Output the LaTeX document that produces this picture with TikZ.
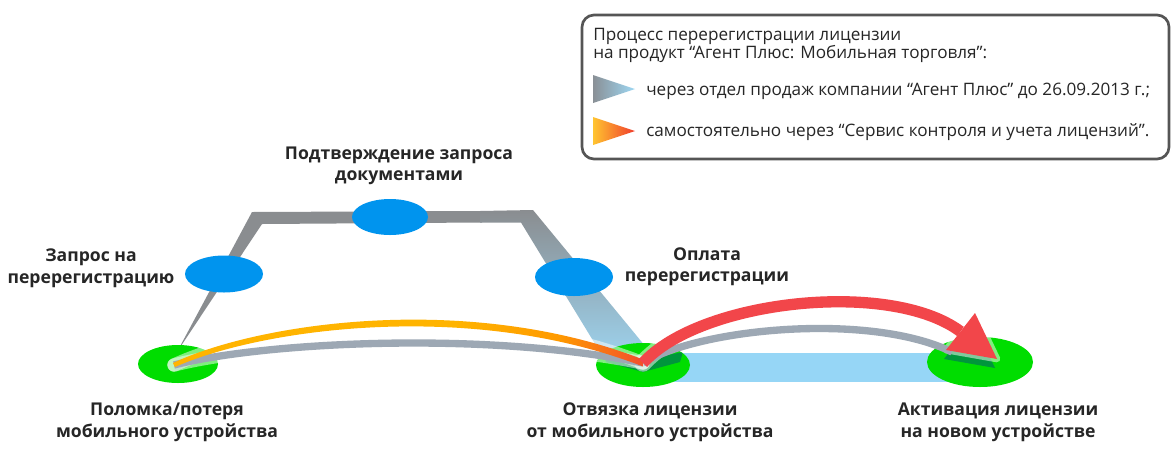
\documentclass[tikz,border=0pt]{standalone}
\usepackage{fontspec}
\setmainfont{Open Sans}
\usetikzlibrary{shapes.geometric}
\definecolor{grn}{HTML}{00DD00}
\definecolor{dgrn}{HTML}{00963C}
\definecolor{blu}{HTML}{0094EE}
\definecolor{lblu}{HTML}{96D6F6}
\definecolor{gryb}{HTML}{8A8D90}
\definecolor{lbluB}{HTML}{9CD0EA}
\definecolor{gryc}{HTML}{9DA8B4}
\definecolor{redc}{HTML}{F2464A}
\definecolor{orgA}{HTML}{FFB400}
\definecolor{orgM}{HTML}{FF9A00}
\definecolor{orgB}{HTML}{F2502C}
\definecolor{txt}{HTML}{262626}
\definecolor{frame}{HTML}{555555}
\definecolor{lgA}{HTML}{8A9096}
\definecolor{lgB}{HTML}{9ED8F4}
\definecolor{loA}{HTML}{FFC430}
\definecolor{loB}{HTML}{F03C2C}
\pgfdeclarehorizontalshading{orgshade}{100bp}{color(0bp)=(orgA); color(25bp)=(orgA); color(55bp)=(orgA); color(66bp)=(orgM); color(75bp)=(orgB); color(100bp)=(orgB)}
\begin{document}
\begin{tikzpicture}[x=0.75pt,y=-0.75pt,
  lbl/.style={font=\bfseries\fontsize{13.2}{15.9}\selectfont, text=txt, align=center, inner sep=0, anchor=base},
  leg/.style={font=\fontsize{12.85}{14}\selectfont, text=txt, inner sep=0, anchor=base west},
  gnode/.style={ellipse, fill=grn, inner sep=0, draw=none},
  bnode/.style={ellipse, fill=blu, inner sep=0, draw=none},
  glow/.style={white, opacity=0.5, line cap=round},
  graycurve/.style={gryc, line width=5.5pt},
  redcurve/.style={redc, line width=8.5pt}]
\useasboundingbox (0,0) rectangle (1176,461);
\fill[white] (0,0) rectangle (1176,461);

% ---- legend ----
\draw[frame, line width=2pt, rounded corners=9pt] (582,15) rectangle (1169,159);
\node[leg] (t1) at (593,40) {Процесс перерегистрации лицензии};
\node[leg] (t2) at (593,58.5) {на продукт “Агент Плюс: Мобильная торговля”:};
\shade[left color=lgA, right color=lgB] (593,75) -- (635,89) -- (593,103) -- cycle;
\shade[left color=loA, right color=loB] (593,117) -- (635,131) -- (593,145) -- cycle;
\node[leg] (i1) at (646,95.3) {через отдел продаж компании “Агент Плюс” до 26.09.2013 г.;};
\node[leg] (i2) at (646,136) {самостоятельно через “Сервис контроля и учета лицензий”.};

% ---- gray process band ----
\fill[gryb] (177,352) -- (252,212) -- (482,211) -- (482,222.5) -- (262,224) -- cycle;
\shade[top color=gryb, bottom color=lbluB] (480,211) -- (533,210) -- (650,352) -- (600,352) -- (521,222.5) -- (480,222.5) -- cycle;
% light blue band
\fill[lblu] (630,353) rectangle (985,382);

% ---- blue nodes ----
\node[bnode, minimum width=58.5pt, minimum height=27.75pt] (b1) at (224,274) {};
\node[bnode, minimum width=57pt, minimum height=27pt] (b2) at (390,217) {};
\node[bnode, minimum width=58.5pt, minimum height=28.5pt] (b3) at (574,277) {};

% ---- green nodes ----
\node[gnode, minimum width=60pt, minimum height=28.5pt] (g1) at (178,364) {};
\node[gnode, minimum width=70.5pt, minimum height=33pt] (g2) at (643,365) {};
\node[gnode, minimum width=79.5pt, minimum height=37.5pt] (g3) at (980,362) {};

\coordinate (s1) at (174,365);
\coordinate (v) at (643,363);
\coordinate (ae) at (960.5,331.5);
\coordinate (tip) at (997,359);
\coordinate (hb1) at (975,313);
\coordinate (hb2) at (946,350);
\coordinate (ge) at (952,352);

% shadows
\begin{scope}
  \clip (g2.center) ellipse [x radius=35.25pt, y radius=16.5pt];
  \fill[dgrn] (603,352) -- (643,360) -- (683,352) -- (680,362) -- (643,372) -- (606,362) -- cycle;
\end{scope}
\begin{scope}
  \clip (g3.center) ellipse [x radius=39.75pt, y radius=18.75pt];
  \fill[dgrn] ([shift={(-2,9)}]tip) -- ([shift={(-2,9)}]hb2) -- ([shift={(-2,9)}]hb1) -- cycle;
\end{scope}
\begin{scope}
  \clip (g1.center) ellipse [x radius=30pt, y radius=14.25pt];
  \draw[dgrn, line width=2pt] (175,370) .. controls (190,362) and (205,358) .. (218,357);
\end{scope}

% glows
\draw[glow, line width=10pt] (s1) .. controls (260,343) and (480,330) .. (v);
\draw[glow, line width=10pt] (s1) .. controls (260,325) and (470,295) .. (v);
\draw[glow, line width=13pt] (v) .. controls (700,300) and (890,279) .. (ae);
\draw[glow, line width=5pt, line join=round] (tip) -- (hb1) -- (hb2) -- cycle;

% gray curves
\draw[graycurve] (s1) .. controls (260,343) and (480,330) .. (v);
\draw[graycurve] (v) .. controls (700,328) and (870,312) .. (ge);

% orange curve (filled, gradient)
\shade[shading=orgshade] (173,363) .. controls (260,322) and (470,292) .. (643,359.5)
   -- (643,366.5) .. controls (470,299) and (260,329) .. (175,367) -- cycle;

% red arrow
\draw[redcurve] (v) .. controls (700,300) and (890,279) .. (ae);
\fill[redc] (tip) -- (hb1) -- (hb2) -- cycle;

% ---- labels (anchor = baseline of last line) ----
\node[lbl] (l1) at (91,283) {Запрос на\\перерегистрацию};
\node[lbl] (l2) at (399,180.5) {Подтверждение запроса\\документами};
\node[lbl] (l3) at (707,281.5) {Оплата\\перерегистрации};
\node[lbl] (l4) at (167,437) {Поломка/потеря\\мобильного устройства};
\node[lbl] (l5) at (650,437) {Отвязка лицензии\\от мобильного устройства};
\node[lbl] (l6) at (998,437) {Активация лицензии\\на новом устройстве};
\end{tikzpicture}
\end{document}
